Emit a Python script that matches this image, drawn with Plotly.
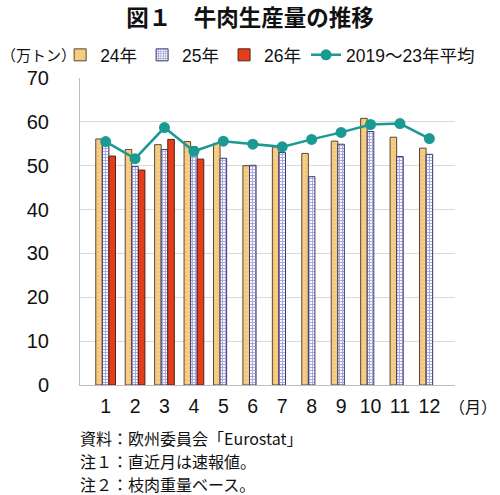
import plotly.graph_objects as go

months = ["1", "2", "3", "4", "5", "6", "7", "8", "9", "10", "11", "12"]
y24 = [56.1, 53.7, 54.8, 55.5, 55.1, 50.0, 54.3, 52.8, 55.6, 60.8, 56.5, 54.0]
y25 = [55.5, 49.8, 53.7, 54.3, 51.7, 50.1, 53.0, 47.5, 54.9, 57.8, 52.1, 52.6]
y26 = [52.2, 49.0, 56.0, 51.5, None, None, None, None, None, None, None, None]
avg = [55.5, 51.6, 58.7, 53.3, 55.6, 54.9, 54.3, 56.0, 57.6, 59.4, 59.6, 56.2]
y_ticks = [0, 10, 20, 30, 40, 50, 60, 70]

FONT = "Liberation Sans, Arial, Noto Sans CJK JP"
JP = "Noto Sans CJK JP"

fig = go.Figure()
fig.add_trace(go.Bar(
    x=months, y=y24, name="24年",
    marker=dict(color="#F8CD86", line=dict(color="#5a4630", width=1),
                pattern=dict(shape=".", fgcolor="#d9a860", bgcolor="#F8CD86", size=4, solidity=0.15)),
))
fig.add_trace(go.Bar(
    x=months, y=y25, name="25年",
    marker=dict(color="#ffffff", line=dict(color="#3a3a70", width=1),
                pattern=dict(shape="+", fgcolor="#5656c0", bgcolor="#ffffff", size=3, solidity=0.6)),
))
fig.add_trace(go.Bar(
    x=months, y=y26, name="26年",
    marker=dict(color="#E23E1C", line=dict(color="#5a2010", width=1)),
))
fig.add_trace(go.Scatter(
    x=months, y=avg, name="2019～23年平均", mode="lines+markers",
    line=dict(color="#1A9A93", width=2.5),
    marker=dict(color="#1A9A93", size=11),
))

fig.update_layout(
    width=500, height=495,
    margin=dict(l=80, r=45, t=78, b=110),
    paper_bgcolor="white", plot_bgcolor="white",
    barmode="group", bargap=0.33, bargroupgap=0,
    font=dict(family=FONT, size=16, color="#111"),
    title=dict(text="<b>図１　牛肉生産量の推移</b>", x=0.5, xanchor="center",
               y=(495 - 18) / 495, yanchor="middle", font=dict(family=JP, size=22.5, color="#111")),
    legend=dict(orientation="h", x=-0.053, xanchor="left", y=1.075, yanchor="middle",
                font=dict(family=FONT, size=17.5), itemwidth=30, tracegroupgap=0,
                bgcolor="rgba(0,0,0,0)", traceorder="normal"),
    showlegend=True,
    xaxis=dict(showline=True, linecolor="#bdbdbd", linewidth=1, ticks="",
               tickfont=dict(size=19.5), showgrid=False, ticklabelstandoff=4),
    yaxis=dict(range=[0, 70], tickvals=y_ticks, showline=True, linecolor="#bdbdbd",
               linewidth=1, showgrid=True, gridcolor="#d9d9d9", gridwidth=1,
               tickfont=dict(size=20), ticklabelstandoff=26, zeroline=False),
)

fig.add_annotation(text="（万トン）", xref="paper", yref="paper", x=-80 / 375, y=1.075,
                   xanchor="left", yanchor="middle", showarrow=False, borderpad=0,
                   font=dict(family=JP, size=15))
fig.add_annotation(text="（月）", xref="paper", yref="paper", x=(448 - 80) / 375, y=(385 - 406) / 307,
                   xanchor="left", yanchor="middle", showarrow=False, borderpad=0,
                   font=dict(family=JP, size=16))
notes = ["資料：欧州委員会「Eurostat」", "注１：直近月は速報値。", "注２：枝肉重量ベース。"]
for i, t in enumerate(notes):
    fig.add_annotation(text=t, xref="paper", yref="paper", x=-0.005, y=(385 - 438 - i * 23) / 307,
                       xanchor="left", yanchor="middle", showarrow=False,
                       font=dict(family=JP, size=16))

fig.write_html("out.html", config={"displayModeBar": False},
               post_script="document.body.style.margin='0';")
